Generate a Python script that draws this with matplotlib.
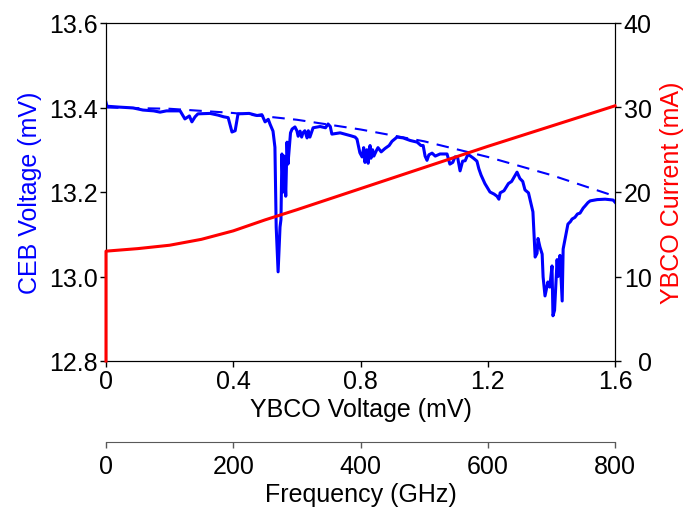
import matplotlib
matplotlib.use('Agg')
import matplotlib.pyplot as plt
from matplotlib.transforms import ScaledTranslation

plt.rcParams['font.family'] = ['Liberation Sans', 'DejaVu Sans']
plt.rcParams['font.size'] = 18

# CEB 电压曲线 (YBCO 电压 mV, CEB 电压 mV)
ceb_x = [0.000, 0.003, 0.040, 0.085, 0.116, 0.150, 0.170, 0.190, 0.233, 0.248,
         0.262, 0.270, 0.280, 0.289, 0.327, 0.352, 0.370, 0.384, 0.396, 0.406,
         0.415, 0.450, 0.475, 0.490, 0.500, 0.510, 0.516, 0.525, 0.531, 0.535,
         0.541, 0.547, 0.550, 0.553, 0.557, 0.560, 0.565, 0.569, 0.572, 0.580,
         0.585, 0.594, 0.600, 0.604, 0.610, 0.615, 0.619, 0.625, 0.632, 0.636,
         0.641, 0.651, 0.673, 0.690, 0.698, 0.705, 0.710, 0.736, 0.751, 0.770,
         0.783, 0.789, 0.798, 0.805, 0.810, 0.814, 0.820, 0.824, 0.830, 0.833,
         0.838, 0.842, 0.850, 0.855, 0.865, 0.877, 0.890, 0.899, 0.915, 0.934,
         0.956, 0.978, 0.990, 0.997, 1.003, 1.009, 1.015, 1.025, 1.035, 1.050,
         1.072, 1.081, 1.090, 1.097, 1.105, 1.113, 1.121, 1.129, 1.137, 1.144,
         1.155, 1.166, 1.172, 1.179, 1.191, 1.207, 1.220, 1.229, 1.235, 1.239,
         1.251, 1.265, 1.275, 1.285, 1.292, 1.301, 1.310, 1.317, 1.328, 1.335,
         1.342, 1.349, 1.355, 1.358, 1.364, 1.371, 1.374, 1.380, 1.389, 1.395,
         1.402, 1.405, 1.410, 1.418, 1.421, 1.427, 1.434, 1.437, 1.443, 1.452,
         1.460, 1.465, 1.474, 1.482, 1.490, 1.500, 1.506, 1.515, 1.522, 1.544,
         1.569, 1.594, 1.600]
ceb_v = [13.412, 13.403, 13.401, 13.399, 13.394, 13.392, 13.389, 13.392, 13.392, 13.373,
         13.380, 13.366, 13.378, 13.385, 13.386, 13.382, 13.378, 13.376, 13.342, 13.345,
         13.385, 13.386, 13.381, 13.383, 13.366, 13.372, 13.360, 13.344, 13.306, 13.117,
         13.011, 13.117, 13.135, 13.290, 13.200, 13.285, 13.190, 13.318, 13.266, 13.340,
         13.349, 13.354, 13.345, 13.332, 13.344, 13.330, 13.340, 13.345, 13.328, 13.345,
         13.330, 13.352, 13.355, 13.352, 13.361, 13.355, 13.337, 13.340, 13.337, 13.333,
         13.330, 13.325, 13.293, 13.283, 13.305, 13.270, 13.300, 13.268, 13.310, 13.280,
         13.300, 13.285, 13.298, 13.305, 13.295, 13.303, 13.310, 13.320, 13.330, 13.328,
         13.322, 13.318, 13.310, 13.310, 13.285, 13.275, 13.288, 13.292, 13.285, 13.290,
         13.290, 13.266, 13.270, 13.283, 13.283, 13.250, 13.273, 13.274, 13.288, 13.286,
         13.280, 13.273, 13.255, 13.240, 13.220, 13.200, 13.195, 13.190, 13.183, 13.198,
         13.203, 13.220, 13.225, 13.238, 13.247, 13.232, 13.225, 13.205, 13.198, 13.176,
         13.153, 13.046, 13.055, 13.090, 13.070, 13.053, 12.999, 12.954, 12.987, 12.975,
         13.025, 12.907, 12.920, 13.040, 13.000, 13.050, 12.942, 13.065, 13.089, 13.124,
         13.130, 13.136, 13.140, 13.148, 13.150, 13.162, 13.167, 13.175, 13.179, 13.182,
         13.183, 13.181, 13.176]

# 虚线基线
base_x = [0.0, 0.2, 0.4, 0.6, 0.8, 1.0, 1.2, 1.4, 1.6]
base_v = [13.400, 13.397, 13.387, 13.371, 13.348, 13.320, 13.283, 13.240, 13.190]

# YBCO 电流
cur_x = [0.0, 0.0, 0.1, 0.2, 0.3, 0.4, 0.5, 0.6, 0.8, 1.0, 1.2, 1.4, 1.6]
cur_i = [0.0, 13.0, 13.3, 13.7, 14.4, 15.4, 16.7, 17.9, 20.4, 22.9, 25.4, 27.8, 30.2]

fig = plt.figure(figsize=(6.87, 5.10), dpi=100)
ax = fig.add_axes([106 / 687, 1 - 362 / 510, (615 - 106) / 687, (362 - 24) / 510])

ax.plot(ceb_x, ceb_v, color='#0000ff', lw=2.2, zorder=3)
ax.plot(base_x, base_v, color='#0000ff', lw=1.5, ls=(0, (6, 4)), zorder=3)
ax.set_xlim(0, 1.6)
ax.set_ylim(12.8, 13.6)
ax.set_xticks([0, 0.4, 0.8, 1.2, 1.6])
ax.set_xticklabels(['0', '0.4', '0.8', '1.2', '1.6'])
ax.set_yticks([12.8, 13.0, 13.2, 13.4, 13.6])
ax.set_yticklabels(['12.8', '13.0', '13.2', '13.4', '13.6'])
ax.set_xlabel('YBCO Voltage (mV)', labelpad=3)
ax.set_ylabel('CEB Voltage (mV)', color='#0000ff', labelpad=5)
ax.tick_params(direction='out', length=4, width=1, pad=2)

ax2 = ax.twinx()
ax2.plot(cur_x, cur_i, color='#ff0000', lw=2.2, zorder=5, clip_on=False)
ax2.set_ylim(0, 40)
ax2.set_yticks([0, 10, 20, 30, 40])
ax2.set_ylabel('YBCO Current (mA)', color='#ff0000', labelpad=6)
ax2.tick_params(direction='out', length=4, width=1, pad=3)
# 右轴刻度文字右对齐
for lab in ax2.get_yticklabels():
    lab.set_horizontalalignment('right')
    lab.set_transform(lab.get_transform() + ScaledTranslation(0.27, 0, fig.dpi_scale_trans))

# 频率副坐标轴
ax3 = ax.twiny()
ax3.set_xlim(0, 800)
ax3.set_xticks([0, 200, 400, 600, 800])
ax3.xaxis.set_ticks_position('bottom')
ax3.xaxis.set_label_position('bottom')
ax3.spines['bottom'].set_position(('outward', 58))
ax3.spines['bottom'].set_color('0.35')
for s in ['top', 'left', 'right']:
    ax3.spines[s].set_visible(False)
ax3.tick_params(direction='out', length=4, width=1, color='0.35', pad=5)
ax3.set_xlabel('Frequency (GHz)', labelpad=3)

fig.savefig('out.png', dpi=100)
